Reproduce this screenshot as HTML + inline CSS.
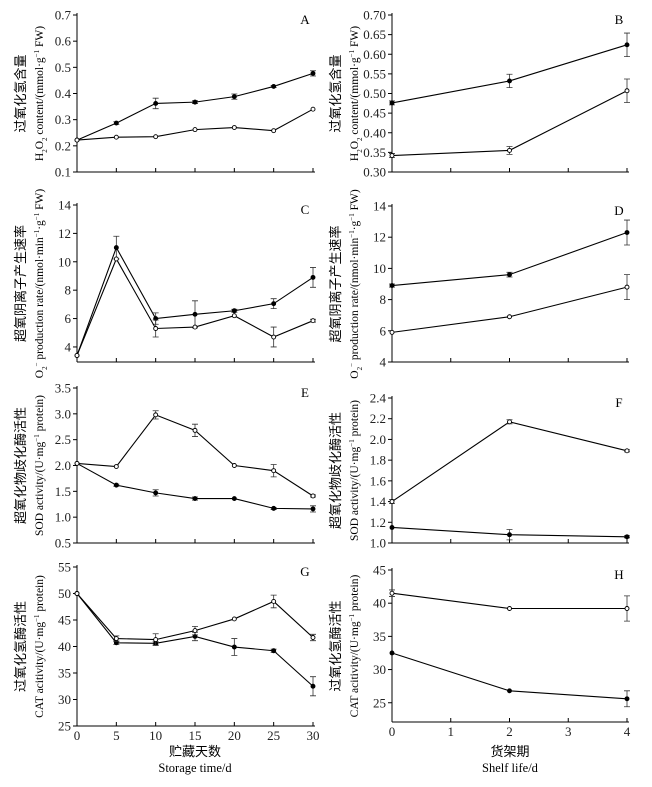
<!DOCTYPE html>
<html><head><meta charset="utf-8"><style>
body{margin:0;background:#fff}
svg{display:block;font-family:"Liberation Serif","Noto Serif CJK SC",serif}
</style></head><body>
<svg id="fig" width="652" height="787" viewBox="0 0 652 787" xmlns="http://www.w3.org/2000/svg"></svg>
<script>
const storageDays=[0,5,10,15,20,25,30];
const shelfDays=[0,2,4];
const aFilled=[0.222,0.287,0.362,0.367,0.388,0.427,0.477];
const aFilledErr=[0,0.005,0.02,0.005,0.01,0.004,0.01];
const aOpen=[0.222,0.233,0.235,0.262,0.27,0.258,0.34];
const aOpenErr=[0,0,0,0,0,0,0];
const bFilled=[0.476,0.532,0.624];
const bFilledErr=[0.005,0.017,0.03];
const bOpen=[0.342,0.355,0.507];
const bOpenErr=[0.005,0.01,0.03];
const cFilled=[3.4,11.0,6.0,6.3,6.55,7.05,8.9];
const cFilledErr=[0,0.8,0.4,0.95,0.1,0.35,0.7];
const cOpen=[3.4,10.2,5.3,5.4,6.2,4.7,5.85];
const cOpenErr=[0,0,0.6,0,0,0.7,0.1];
const dFilled=[8.9,9.6,12.3];
const dFilledErr=[0.1,0.15,0.8];
const dOpen=[5.9,6.9,8.8];
const dOpenErr=[0,0,0.8];
const eFilled=[2.04,1.62,1.47,1.36,1.36,1.17,1.16];
const eFilledErr=[0,0.02,0.06,0.03,0,0.02,0.06];
const eOpen=[2.04,1.98,2.98,2.68,2.0,1.9,1.41];
const eOpenErr=[0,0,0.08,0.12,0,0.12,0.02];
const fFilled=[1.15,1.08,1.06];
const fFilledErr=[0,0.05,0.01];
const fOpen=[1.4,2.17,1.89];
const fOpenErr=[0.02,0.02,0.01];
const gFilled=[50,40.7,40.6,41.9,39.9,39.2,32.5];
const gFilledErr=[0,0.3,0.3,0.8,1.6,0.3,1.8];
const gOpen=[50,41.5,41.3,43,45.2,48.5,41.7];
const gOpenErr=[0,0.5,1.1,0.8,0,1.2,0.6];
const hFilled=[32.5,26.8,25.6];
const hFilledErr=[0,0,1.2];
const hOpen=[41.5,39.2,39.2];
const hOpenErr=[0.5,0,1.9];
const ticksA=["0.1","0.2","0.3","0.4","0.5","0.6","0.7"];
const ticksB=["0.30","0.35","0.40","0.45","0.50","0.55","0.60","0.65","0.70"];
const ticksCD=["4","6","8","10","12","14"];
const ticksE=["0.5","1.0","1.5","2.0","2.5","3.0","3.5"];
const ticksF=["1.0","1.2","1.4","1.6","1.8","2.0","2.2","2.4"];
const ticksG=["25","30","35","40","45","50","55"];
const ticksH=["25","30","35","40","45"];
const xTicksLeft=["0","5","10","15","20","25","30"];
const xTicksRight=["0","1","2","3","4"];

const NS="http://www.w3.org/2000/svg";
const svg=document.getElementById('fig');
function mk(tag,attrs,parent,name){const e=document.createElementNS(NS,tag);for(const k in attrs)e.setAttribute(k,attrs[k]);


(parent||svg).appendChild(e);return e;}

const L={x0:77,x1:313,xmax:30};
const R={x0:392,x1:627,xmax:4};
const panels=[
 {id:'A',col:L,x:storageDays,ymin:0.1,ymax:0.7,yt:15,yb:172,ticks:ticksA,s:[[aFilled,aFilledErr,1],[aOpen,aOpenErr,0]],zh:'过氧化氢含量',en:'H<tspan baseline-shift="sub" font-size="7">2</tspan>O<tspan baseline-shift="sub" font-size="7">2</tspan> content/(mmol·g<tspan baseline-shift="super" font-size="7">−1</tspan> FW)'},
 {id:'B',col:R,x:shelfDays,ymin:0.3,ymax:0.7,yt:15,yb:172,ticks:ticksB,s:[[bFilled,bFilledErr,1],[bOpen,bOpenErr,0]],zh:'过氧化氢含量',en:'H<tspan baseline-shift="sub" font-size="7">2</tspan>O<tspan baseline-shift="sub" font-size="7">2</tspan> content/(mmol·g<tspan baseline-shift="super" font-size="7">−1</tspan> FW)'},
 {id:'C',col:L,x:storageDays,ymin:2.94,ymax:14,yt:205,yb:362,ticks:ticksCD,s:[[cFilled,cFilledErr,1],[cOpen,cOpenErr,0]],zh:'超氧阴离子产生速率',en:'O<tspan baseline-shift="sub" font-size="7">2</tspan><tspan baseline-shift="super" font-size="7">−</tspan> production rate/(nmol·min<tspan baseline-shift="super" font-size="7">−1</tspan>·g<tspan baseline-shift="super" font-size="7">−1</tspan> FW)'},
 {id:'D',col:R,x:shelfDays,ymin:4,ymax:14,yt:206,yb:362,ticks:ticksCD,s:[[dFilled,dFilledErr,1],[dOpen,dOpenErr,0]],zh:'超氧阴离子产生速率',en:'O<tspan baseline-shift="sub" font-size="7">2</tspan><tspan baseline-shift="super" font-size="7">−</tspan> production rate/(nmol·min<tspan baseline-shift="super" font-size="7">−1</tspan>·g<tspan baseline-shift="super" font-size="7">−1</tspan> FW)'},
 {id:'E',col:L,x:storageDays,ymin:0.5,ymax:3.5,yt:388,yb:543,ticks:ticksE,s:[[eFilled,eFilledErr,1],[eOpen,eOpenErr,0]],zh:'超氧化物歧化酶活性',en:'SOD activity/(U·mg<tspan baseline-shift="super" font-size="7">−1</tspan> protein)'},
 {id:'F',col:R,x:shelfDays,ymin:1.0,ymax:2.4,yt:398,yb:543,ticks:ticksF,s:[[fFilled,fFilledErr,1],[fOpen,fOpenErr,0]],zh:'超氧化物歧化酶活性',en:'SOD activity/(U·mg<tspan baseline-shift="super" font-size="7">−1</tspan> protein)'},
 {id:'G',col:L,x:storageDays,ymin:25,ymax:55,yt:567,yb:726,ticks:ticksG,s:[[gFilled,gFilledErr,1],[gOpen,gOpenErr,0]],zh:'过氧化氢酶活性',en:'CAT acitivity/(U·mg<tspan baseline-shift="super" font-size="7">−1</tspan> protein)',xl:xTicksLeft},
 {id:'H',col:R,x:shelfDays,ymin:22.1,ymax:45,yt:570,yb:722,ticks:ticksH,s:[[hFilled,hFilledErr,1],[hOpen,hOpenErr,0]],zh:'过氧化氢酶活性',en:'CAT acitivity/(U·mg<tspan baseline-shift="super" font-size="7">−1</tspan> protein)',xl:xTicksRight}
];
panels.forEach(p=>{
 const g=mk('g',{},svg,'panel-'+p.id.toLowerCase());
 const c=p.col;
 const xs=v=>c.x0+(v/c.xmax)*(c.x1-c.x0);
 const ys=v=>p.yb-(v-p.ymin)/(p.ymax-p.ymin)*(p.yb-p.yt);
 mk('line',{x1:c.x0,y1:p.yt-2,x2:c.x0,y2:p.yb,stroke:'#000','stroke-width':1},g,'y-axis');
 mk('line',{x1:c.x0,y1:p.yb,x2:c.x1+2,y2:p.yb,stroke:'#000','stroke-width':1},g,'x-axis');
 p.ticks.forEach(t=>{const y=ys(parseFloat(t));
  mk('line',{x1:c.x0-4,y1:y,x2:c.x0,y2:y,stroke:'#000'},g,'y-tick');
  const tx=mk('text',{x:c.x0-6,y:y+4.5,'text-anchor':'end','font-size':13,fill:'#222'},g,'y-tick-label');tx.textContent=t;});
 const nx=c.xmax===30?7:5;
 for(let i=0;i<nx;i++){const v=c.xmax===30?i*5:i;const x=xs(v);
  mk('line',{x1:x,y1:p.yb,x2:x,y2:p.yb-4,stroke:'#000'},g,'x-tick');}
 if(p.xl){p.xl.forEach(t=>{const x=xs(parseFloat(t));
  const tx=mk('text',{x:x,y:p.yb+14,'text-anchor':'middle','font-size':13,fill:'#222'},g,'x-tick-label');tx.textContent=t;});}
 const lt=mk('text',{x:c.x1-8,y:p.yt+9,'text-anchor':'middle','font-size':13},g,'panel-letter');lt.textContent=p.id;
 const cy=(p.yt+p.yb)/2, zx=c.x0-52, ex=c.x0-34;
 const zt=mk('text',{x:zx,y:cy,'text-anchor':'middle','font-size':13,transform:`rotate(-90 ${zx} ${cy})`,'font-family':'"Noto Sans CJK SC","Noto Serif CJK SC",sans-serif'},g,'y-axis-title-zh');zt.textContent=p.zh;
 const et=mk('text',{x:ex,y:cy,'text-anchor':'middle','font-size':11.5,transform:`rotate(-90 ${ex} ${cy})`},g,'y-axis-title-en');et.innerHTML=p.en;
 p.s.forEach(([vals,errs,filled])=>{
  const sg=mk('g',{},g,filled?'series-filled':'series-open');
  const pts=vals.map((v,i)=>xs(p.x[i])+','+ys(v)).join(' ');
  mk('polyline',{points:pts,fill:'none',stroke:'#000','stroke-width':1.1},sg,'series-line');
  vals.forEach((v,i)=>{const x=xs(p.x[i]);
   if(errs[i]>0){const y1=ys(v+errs[i]),y2=ys(v-errs[i]);
    mk('path',{d:`M${x},${y1}V${y2}M${x-3},${y1}H${x+3}M${x-3},${y2}H${x+3}`,stroke:'#333','stroke-width':0.8,fill:'none'},sg,'error-bar');}
   mk('circle',{cx:x,cy:ys(v),r:2,fill:filled?'#000':'#fff',stroke:'#000','stroke-width':0.9},sg,'data-point');});
 });
});
const t1=mk('text',{x:195,y:756,'text-anchor':'middle','font-size':13,'font-family':'"Noto Sans CJK SC","Noto Serif CJK SC",sans-serif'},svg,'x-axis-title-zh-left');t1.textContent='贮藏天数';
const t2=mk('text',{x:195,y:772,'text-anchor':'middle','font-size':12.5},svg,'x-axis-title-en-left');t2.textContent='Storage time/d';
const t3=mk('text',{x:510,y:756,'text-anchor':'middle','font-size':13,'font-family':'"Noto Sans CJK SC","Noto Serif CJK SC",sans-serif'},svg,'x-axis-title-zh-right');t3.textContent='货架期';
const t4=mk('text',{x:510,y:772,'text-anchor':'middle','font-size':12.5},svg,'x-axis-title-en-right');t4.textContent='Shelf life/d';
</script>
</body></html>
